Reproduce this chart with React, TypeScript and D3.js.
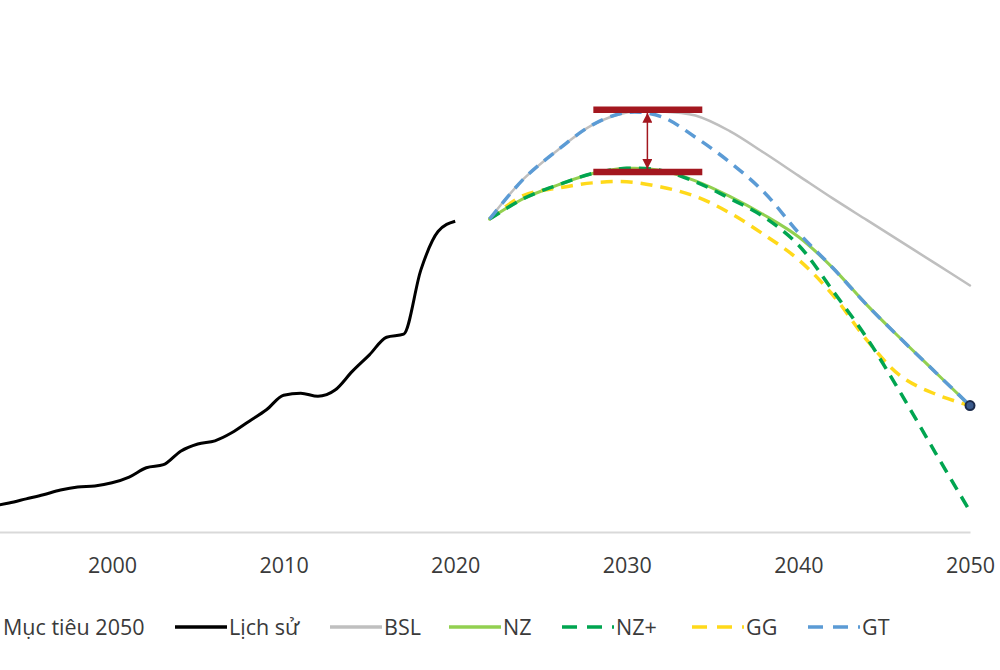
import React, { useEffect, useRef } from 'react';
import * as d3 from 'd3';

// history (Mt CO2-ish)
const historyYears = [1993, 1994, 1995, 1996, 1997, 1998, 1999, 2000, 2001, 2002, 2003, 2004, 2005, 2006,
  2007, 2008, 2009, 2010, 2011, 2012, 2013, 2014, 2015, 2016, 2017, 2018, 2019, 2020];
const historyValues = [25, 28, 32, 36, 40.5, 43.5, 44.5, 47.5, 53, 62, 65, 78, 85, 88,
  96, 107, 118, 132, 134, 131, 137, 155, 171, 188, 191, 253, 290, 300];

// scenarios
const scenarioYears = [2022, 2024, 2026, 2028, 2030, 2032, 2034, 2036, 2038, 2040, 2042, 2044, 2046, 2048, 2050];
const bslValues = [302, 341, 369, 393, 405, 406, 402, 387, 366, 344, 322, 301, 280, 259, 238];
const nzValues = [302, 322, 335, 346, 351, 349, 339, 324, 306, 285, 255, 219, 186, 154, 122];
const nzPlusValues = [302, 322, 335, 346, 351, 349, 338, 322, 304, 277, 233, 187, 133, 76, 20];
const ggValues = [302, 325, 332, 337, 338, 333, 324, 308, 287, 263, 229, 185, 150, 133, 122];
const gtValues = [302, 341, 369, 393, 405, 401, 381, 357, 328, 289, 255, 219, 186, 154, 122];

const targetYear = 2050;
const targetValue = 122;

// gap annotation
const gapYears = [2028.05, 2034.4];
const gapLevels = [407.5, 347.5];
const gapArrowYear = 2031.2;

const tickYears = [2000, 2010, 2020, 2030, 2040, 2050];

const FONT = "'Open Sans', sans-serif";
const FONT_SIZE = 21.5;
const TEXT = '#3A3A3A';
const RED = '#A3171F';

const series = [
  { key: 'BSL', values: bslValues, color: '#BFBFBF', width: 2.5, dash: null },
  { key: 'NZ', values: nzValues, color: '#92D050', width: 3, dash: null },
  { key: 'GG', values: ggValues, color: '#FFD91A', width: 3.5, dash: '12 8' },
  { key: 'NZ+', values: nzPlusValues, color: '#00A550', width: 3.5, dash: '12 8' },
  { key: 'GT', values: gtValues, color: '#5B9BD5', width: 3.5, dash: '12 8' },
];

const legendItems = [
  { label: 'Lịch sử', color: '#000000', width: 3.5, dash: null, x: 175 },
  { label: 'BSL', color: '#BFBFBF', width: 3.5, dash: null, x: 330 },
  { label: 'NZ', color: '#92D050', width: 3.5, dash: null, x: 449 },
  { label: 'NZ+', color: '#00A550', width: 3.5, dash: '15 10', x: 562 },
  { label: 'GG', color: '#FFD91A', width: 3.5, dash: '15 10', x: 692 },
  { label: 'GT', color: '#5B9BD5', width: 3.5, dash: '15 10', x: 808 },
];

export default function App() {
  const ref = useRef<SVGSVGElement>(null);

  useEffect(() => {
    const svg = d3.select(ref.current);
    svg.selectAll('*').remove();

    const x = d3.scaleLinear().domain([1990, 2050]).range([112 - 171.6, 970]);
    const y = d3.scaleLinear().domain([0, 500]).range([532, 14]);

    // axis
    svg.append('g')
      .attr('transform', `translate(0,${y(0)})`)
      .call(d3.axisBottom(x).tickValues(tickYears).tickFormat(d3.format('d')).tickSize(0).tickPadding(26))
      .call((g) => g.select('.domain').attr('stroke', '#D9D9D9').attr('stroke-width', 2))
      .call((g) => g.selectAll('text').attr('font-family', FONT).attr('font-size', FONT_SIZE).attr('fill', TEXT));

    const line = d3.line<[number, number]>()
      .x((d) => x(d[0]))
      .y((d) => y(d[1]))
      .curve(d3.curveMonotoneX);

    // history
    svg.append('path')
      .attr('d', line(historyYears.map((yr, i) => [yr, historyValues[i]])))
      .attr('fill', 'none')
      .attr('stroke', '#000')
      .attr('stroke-width', 3)
      .attr('stroke-linejoin', 'round');

    const scen = d3.line<[number, number]>()
      .x((d) => x(d[0]))
      .y((d) => y(d[1]))
      .curve(d3.curveCatmullRom.alpha(0.5));

    svg.append('g')
      .selectAll('path')
      .data(series)
      .join('path')
      .attr('d', (s) => scen(scenarioYears.map((yr, i) => [yr, s.values[i]])))
      .attr('fill', 'none')
      .attr('stroke', (s) => s.color)
      .attr('stroke-width', (s) => s.width)
      .attr('stroke-dasharray', (s) => s.dash)
      .attr('stroke-linecap', (s) => (s.dash ? 'butt' : 'round'));

    // target marker
    svg.append('circle')
      .attr('cx', x(targetYear))
      .attr('cy', y(targetValue))
      .attr('r', 4.5)
      .attr('fill', '#3A5A8C')
      .attr('stroke', '#1B2A4A')
      .attr('stroke-width', 2);

    // gap annotation
    svg.append('g')
      .selectAll('line')
      .data(gapLevels)
      .join('line')
      .attr('x1', x(gapYears[0]))
      .attr('x2', x(gapYears[1]))
      .attr('y1', (d) => y(d))
      .attr('y2', (d) => y(d))
      .attr('stroke', RED)
      .attr('stroke-width', 6.5);

    const defs = svg.append('defs');
    defs.append('marker')
      .attr('id', 'arrowhead')
      .attr('viewBox', '0 0 10 10')
      .attr('refX', 10)
      .attr('refY', 5)
      .attr('markerWidth', 10)
      .attr('markerHeight', 10)
      .attr('markerUnits', 'userSpaceOnUse')
      .attr('orient', 'auto-start-reverse')
      .append('path')
      .attr('d', 'M0,0L10,5L0,10Z')
      .attr('fill', RED);

    svg.append('line')
      .attr('x1', x(gapArrowYear))
      .attr('x2', x(gapArrowYear))
      .attr('y1', y(gapLevels[0]) + 3)
      .attr('y2', y(gapLevels[1]) - 3)
      .attr('stroke', RED)
      .attr('stroke-width', 1.5)
      .attr('marker-start', 'url(#arrowhead)')
      .attr('marker-end', 'url(#arrowhead)');

    // legend
    const legend = svg.append('g').attr('font-family', FONT).attr('font-size', FONT_SIZE).attr('fill', TEXT);
    legend.append('circle')
      .attr('cx', -20).attr('cy', 627).attr('r', 4.5)
      .attr('fill', '#3A5A8C').attr('stroke', '#1B2A4A').attr('stroke-width', 2);
    legend.append('text').attr('x', 3).attr('y', 635).text('Mục tiêu 2050');

    const item = legend.selectAll('g.item')
      .data(legendItems)
      .join('g')
      .attr('class', 'item')
      .attr('transform', (d) => `translate(${d.x},0)`);
    item.append('line')
      .attr('x1', 0).attr('x2', 52)
      .attr('y1', 627).attr('y2', 627)
      .attr('stroke', (d) => d.color)
      .attr('stroke-width', (d) => d.width)
      .attr('stroke-dasharray', (d) => d.dash);
    item.append('text')
      .attr('x', 54)
      .attr('y', 635)
      .text((d) => d.label);
  }, []);

  return (
    <svg
      ref={ref}
      width={1000}
      height={670}
      style={{ position: 'absolute', left: 0, top: 0, background: '#fff' }}
    />
  );
}
